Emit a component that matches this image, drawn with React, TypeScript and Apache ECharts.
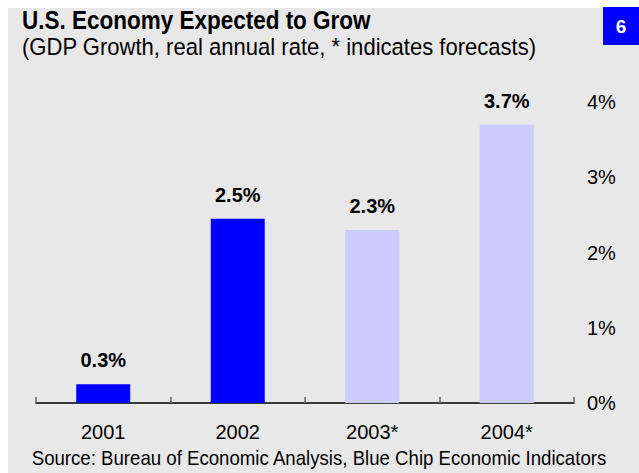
import React, { useEffect, useRef } from "react";
import * as echarts from "echarts";

const categories = ["2001", "2002", "2003*", "2004*"];
const growth = [0.25, 2.45, 2.3, 3.7];
const valueLabels = ["0.3%", "2.5%", "2.3%", "3.7%"];
const barColors = ["#0000ff", "#0000ff", "#ccccff", "#ccccff"];
const yTicks = [0, 1, 2, 3, 4];

const FONT = "'Liberation Sans', Arial, sans-serif";

export default function App() {
  const ref = useRef<HTMLDivElement>(null);
  useEffect(() => {
    if (!ref.current) return;
    const chart = echarts.init(ref.current, null, { renderer: "svg" });
    chart.setOption({
      animation: false,
      backgroundColor: "#ffffff",
      textStyle: { fontFamily: FONT },
      graphic: [
        {
          type: "rect",
          z: -10,
          shape: { x: 8, y: 8, width: 631, height: 465 },
          style: { fill: "#e8e8e8" },
          silent: true,
        },
        {
          type: "rect",
          shape: { x: 603, y: 7, width: 36, height: 38 },
          style: { fill: "#0000ff" },
        },
        {
          type: "text",
          x: 621,
          y: 26,
          style: {
            text: "6",
            fill: "#ffffff",
            font: `bold 19px ${FONT}`,
            textAlign: "center",
            textVerticalAlign: "middle",
          },
        },
        {
          type: "text",
          x: 22,
          y: 20,
          scaleX: 0.9,
          style: {
            text: "U.S. Economy Expected to Grow",
            fill: "#000000",
            font: `bold 25px ${FONT}`,
            textVerticalAlign: "middle",
          },
        },
        {
          type: "text",
          x: 22,
          y: 47,
          scaleX: 0.9,
          style: {
            text: "(GDP Growth, real annual rate, * indicates forecasts)",
            fill: "#000000",
            font: `24.5px ${FONT}`,
            textVerticalAlign: "middle",
          },
        },
        {
          type: "text",
          x: 319,
          y: 458,
          scaleX: 0.9,
          style: {
            text: "Source: Bureau of Economic Analysis, Blue Chip Economic Indicators",
            fill: "#000000",
            font: `20.7px ${FONT}`,
            textAlign: "center",
            textVerticalAlign: "middle",
          },
        },
      ],
      grid: { left: 36, right: 65, top: 102, bottom: 70 },
      xAxis: {
        type: "category",
        data: categories,
        axisLine: { lineStyle: { color: "#000000", width: 1.5 } },
        axisTick: { show: true, inside: true, length: 6, lineStyle: { color: "#666666", width: 1.5 } },
        axisLabel: { color: "#000000", fontSize: 20, margin: 19, fontFamily: FONT },
        splitLine: { show: false },
      },
      yAxis: {
        type: "value",
        position: "right",
        min: 0,
        max: yTicks[yTicks.length - 1],
        interval: 1,
        axisLine: { show: false },
        axisTick: { show: false },
        splitLine: { show: false },
        axisLabel: {
          color: "#000000",
          fontSize: 20,
          margin: 13,
          align: "left",
          fontFamily: FONT,
          formatter: (v: number) => `${v}%`,
        },
      },
      series: [
        {
          type: "bar",
          barWidth: 54,
          data: growth.map((v, i) => ({
            value: v,
            itemStyle: { color: barColors[i] },
            label: {
              show: true,
              position: "top",
              distance: 14,
              formatter: valueLabels[i],
              color: "#000000",
              fontWeight: "bold",
              fontSize: 20,
              fontFamily: FONT,
            },
          })),
        },
      ],
    });
    return () => chart.dispose();
  }, []);
  return (
    <div
      ref={ref}
      style={{ position: "absolute", left: 0, top: 0, width: 639, height: 473 }}
    />
  );
}
